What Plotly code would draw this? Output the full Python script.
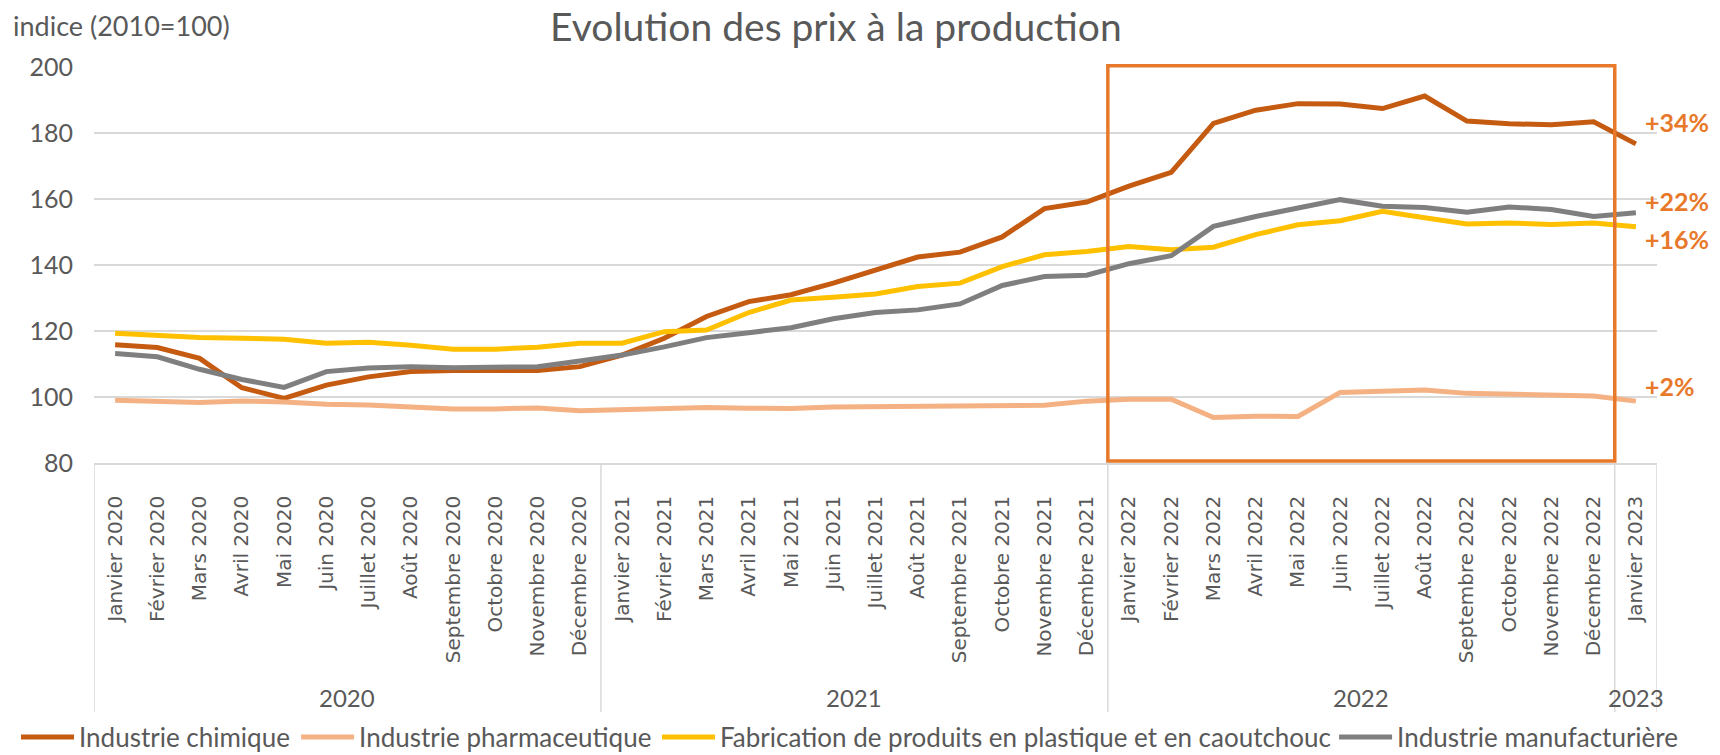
import plotly.graph_objects as go

month_names = ["Janvier", "Février", "Mars", "Avril", "Mai", "Juin", "Juillet",
               "Août", "Septembre", "Octobre", "Novembre", "Décembre"]
years = ["2020", "2021", "2022", "2023"]
categories = [f"{m} {y}" for y in years[:3] for m in month_names] + ["Janvier 2023"]

chimique = [115.8, 115.0, 111.7, 102.8, 99.6, 103.6, 106.1, 107.7, 108.0, 108.0, 108.0, 109.2,
            112.7, 117.8, 124.4, 128.9, 131.0, 134.5, 138.5, 142.4, 143.9, 148.5, 157.1, 159.1,
            163.9, 168.1, 182.9, 186.9, 188.9, 188.8, 187.4, 191.2, 183.6, 182.8, 182.5, 183.4,
            176.7]
pharma = [99.0, 98.75, 98.3, 98.8, 98.5, 97.8, 97.6, 97.0, 96.4, 96.4, 96.7, 95.8,
          96.2, 96.3, 96.8, 96.6, 96.5, 97.0, 97.1, 97.1, 97.0, 97.4, 97.5, 98.75,
          99.3, 99.3, 93.8, 94.2, 94.1, 101.4, 101.9, 102.1, 101.1, 100.9, 100.8, 100.3,
          98.75]
plastique = [119.3, 118.5, 118.0, 117.8, 117.5, 116.3, 116.6, 115.7, 114.5, 114.5, 115.1, 116.3,
             116.3, 119.8, 120.3, 125.6, 129.4, 130.2, 131.2, 133.5, 134.5, 139.5, 143.1, 144.1,
             145.6, 144.6, 145.4, 149.2, 152.2, 153.4, 156.3, 154.3, 152.4, 152.7, 152.3, 152.7,
             151.6]
manuf = [113.2, 112.2, 108.4, 105.3, 102.9, 107.7, 108.8, 109.2, 108.9, 108.9, 109.2, 110.9,
         112.7, 115.2, 118.0, 119.5, 121.0, 123.7, 125.6, 126.4, 128.2, 133.8, 136.5, 136.9,
         140.4, 142.8, 151.7, 154.7, 157.3, 159.8, 157.8, 157.4, 156.0, 157.6, 156.8, 154.7,
         155.8]

series_names = ["Industrie chimique", "Industrie pharmaceutique",
                "Fabrication de produits en plastique et en caoutchouc",
                "Industrie manufacturière"]
series_values = [chimique, pharma, plastique, manuf]
series_colors = ["#C55A11", "#F4B183", "#FFC000", "#7F7F7F"]

change_labels = ["+34%", "+22%", "+16%", "+2%"]
change_label_y = [183.2, 159.3, 147.8, 103.2]

year_labels = ["2020", "2021", "2022", "2023"]
year_centers = [5.5, 17.5, 29.5, 36.0]
year_bounds = [-0.5, 11.5, 23.5, 35.5, 36.5]

# legend entry positions (paper x of each legend box)
legend_ids = ["legend", "legend2", "legend3", "legend4"]
legend_x = [-0.0499, 0.1293, 0.3602, 0.7934]

GRAY = "#595959"
GRID = "#D9D9D9"
ACCENT = "#E8782A"

fig = go.Figure()
for name, vals, col, lid in zip(series_names, series_values, series_colors, legend_ids):
    fig.add_trace(go.Scatter(x=categories, y=vals, mode="lines", name=name, legend=lid,
                             line=dict(color=col, width=5)))

shapes = []
for xb in year_bounds:
    shapes.append(dict(type="line", xref="x", yref="paper", x0=xb, x1=xb, y0=0, y1=-0.629,
                       line=dict(color=GRID, width=1.5)))
shapes.append(dict(type="rect", xref="x", yref="paper", x0=23.5, x1=35.5, y0=0.005, y1=1.003,
                   line=dict(color=ACCENT, width=3.5), fillcolor="rgba(0,0,0,0)", layer="above"))

annotations = []
for lab, xc in zip(year_labels, year_centers):
    annotations.append(dict(x=xc, y=-0.591, xref="x", yref="paper", text=lab, showarrow=False,
                            font=dict(family="Lato", size=24, color=GRAY),
                            xanchor="center", yanchor="middle"))
for lab, yv in zip(change_labels, change_label_y):
    annotations.append(dict(x=1, y=yv, xref="paper", yref="y", text=f"<b>{lab}</b>", showarrow=False,
                            xshift=-14, font=dict(family="Lato", size=25, color=ACCENT),
                            xanchor="left", yanchor="middle"))
annotations.append(dict(x=-0.053, y=1.106, xref="paper", yref="paper", text="indice (2010=100)",
                        showarrow=False, font=dict(family="Lato", size=27, color=GRAY),
                        xanchor="left", yanchor="middle"))

legend_common = dict(orientation="h", xanchor="left", y=-0.692, yanchor="middle",
                     font=dict(family="Lato", size=26, color=GRAY), itemwidth=53,
                     bgcolor="rgba(0,0,0,0)")

fig.update_layout(
    width=1720, height=755,
    margin=dict(l=94, r=63, t=67, b=292, autoexpand=False),
    paper_bgcolor="white", plot_bgcolor="white",
    title=dict(text="Evolution des prix à la production", x=0.486, xanchor="center",
               y=0.964, yanchor="middle", font=dict(family="Lato", size=39, color=GRAY)),
    xaxis=dict(type="category", range=[-0.5, 36.5], showgrid=False, showline=True,
               linecolor=GRID, linewidth=1.5, tickangle=-90, ticks="outside", ticklen=23,
               tickcolor="rgba(0,0,0,0)", automargin=False,
               tickfont=dict(family="DejaVu Sans", size=20, color=GRAY), fixedrange=True),
    yaxis=dict(range=[80, 200], dtick=20, showgrid=True, gridcolor=GRID, gridwidth=1.5,
               zeroline=False, ticks="outside", ticklen=15, tickcolor="rgba(0,0,0,0)",
               automargin=False,
               tickfont=dict(family="Lato", size=25, color=GRAY)),
    showlegend=True,
    shapes=shapes, annotations=annotations,
)
for lid, lx in zip(legend_ids, legend_x):
    fig.update_layout({lid: dict(x=lx, **legend_common)})

fig.write_html("out.html", config={"displayModeBar": False},
               post_script="document.body.style.margin='0';")
